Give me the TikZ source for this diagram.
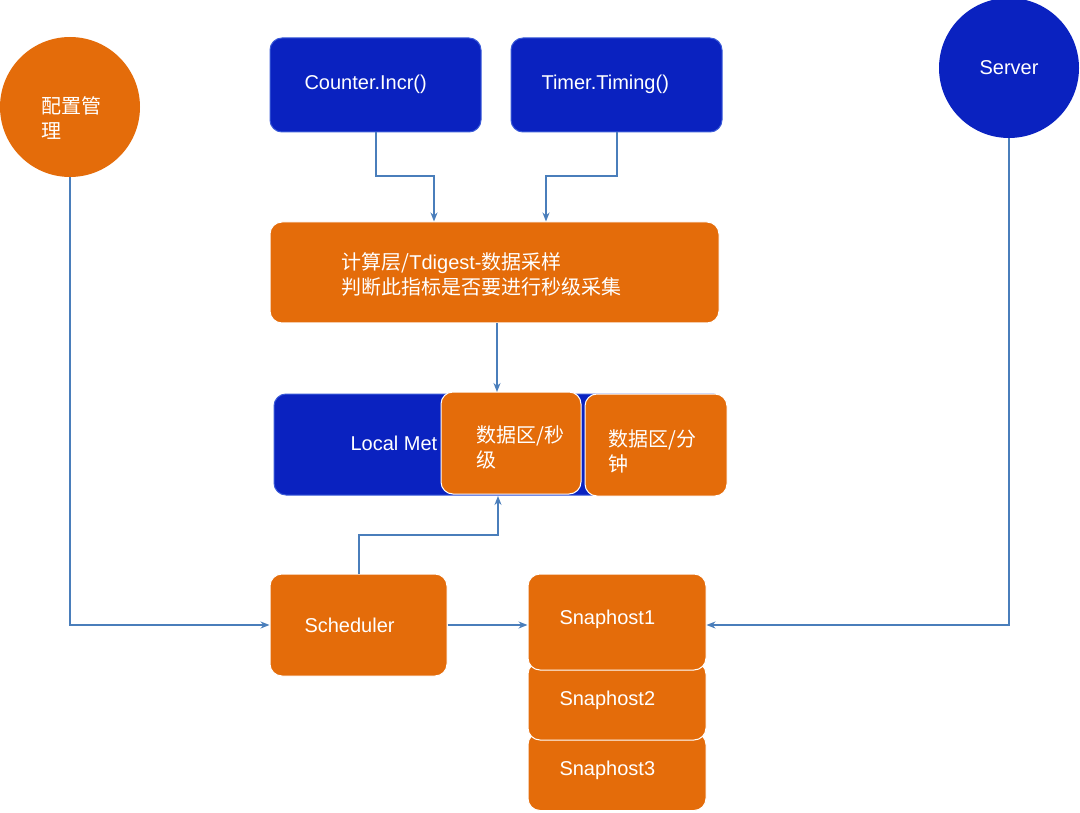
\documentclass[tikz,border=0pt]{standalone}
\usepackage{fontspec}
\setmainfont{Liberation Sans}
\newfontfamily\cjk{Noto Sans CJK SC}
\usetikzlibrary{arrows.meta}
\definecolor{org}{HTML}{E46C0A}
\definecolor{blu}{HTML}{0A22C0}
\definecolor{bbd}{HTML}{3B5BD8}
\definecolor{arr}{HTML}{4A7EBB}
\begin{document}
\begin{tikzpicture}[x=1pt,y=-1pt,
 txt/.style={text=white,font=\fontsize{20}{25}\selectfont\cjk},
 ob/.style={txt,fill=org,draw=white,line width=1pt,rounded corners=12pt,inner sep=0pt},
 bb/.style={txt,fill=blu,draw=bbd,line width=1pt,rounded corners=12pt,inner sep=0pt},
 ar/.style={draw=arr,line width=1.5pt,-{Stealth[length=9pt,width=7pt]}}]
\useasboundingbox (0,0) rectangle (1080,813);
\node[circle,fill=org,minimum size=140pt,txt,align=left] (cfg) at (70,107) {};
\node[txt,align=left,anchor=west] at (38,118) {配置管\\理};
\node[circle,fill=blu,minimum size=140pt,txt] (srv) at (1009,68) {};
\node[txt,font=\fontsize{20}{25}\selectfont] at (1009,68) {Server};
\node[bb,minimum width=211pt,minimum height=94pt] (cnt) at (375.5,85) {};
\node[txt,font=\fontsize{20}{25}\selectfont,anchor=west] at (301,84) {Counter.Incr()};
\node[bb,minimum width=211pt,minimum height=94pt] (tmr) at (616.5,85) {};
\node[txt,font=\fontsize{20}{25}\selectfont,anchor=west] at (538,84) {Timer.Timing()};
\node[ob,minimum width=449pt,minimum height=101pt] (cmp) at (494.5,272.5) {};
\node[txt,align=left,anchor=west] at (338,274) {计算层/\fontspec{Liberation Sans}Tdigest-\cjk 数据采样\\判断此指标是否要进行秒级采集};
\node[bb,minimum width=451pt,minimum height=101pt] (loc) at (499.5,444.5) {};
\node[txt,font=\fontsize{20}{25}\selectfont,anchor=west] at (347,443) {Local Met};
\node[ob,minimum width=140pt,minimum height=102pt] (sec) at (511,443) {};
\node[txt,align=left,anchor=west] at (473,447) {数据区/秒\\级};
\node[ob,minimum width=142pt,minimum height=102pt] (min) at (656,445) {};
\node[txt,align=left,anchor=west] at (605,451) {数据区/分\\钟};
\node[ob,minimum width=177pt,minimum height=102pt] (sch) at (358.5,625) {};
\node[txt,font=\fontsize{20}{25}\selectfont,anchor=west] at (301,625) {Scheduler};
\node[ob,minimum width=178pt,minimum height=78pt] (s3) at (617,771.5) {};
\node[ob,minimum width=178pt,minimum height=78pt] (s2) at (617,701) {};
\node[ob,minimum width=178pt,minimum height=96pt] (s1) at (617,622) {};
\node[txt,font=\fontsize{20}{25}\selectfont,anchor=west] at (556,619) {Snaphost1};
\node[txt,font=\fontsize{20}{25}\selectfont,anchor=west] at (556,700) {Snaphost2};
\node[txt,font=\fontsize{20}{25}\selectfont,anchor=west] at (556,770) {Snaphost3};
\draw[ar] (cnt.south -| 376,0) |- (434,176) -- (cmp.north -| 434,0);
\draw[ar] (tmr.south -| 617,0) |- (546,176) -- (cmp.north -| 546,0);
\draw[ar] (cmp.south -| 497,0) -- (497,392);
\draw[ar] (sch.north -| 359,0) |- (498,535) -- (498,496);
\draw[ar] (cfg.south) |- (sch.west);
\draw[ar] (sch.east) -- (s1.west |- sch.east);
\draw[ar] (srv.south) |- (s1.east |- sch.east);
\end{tikzpicture}
\end{document}
